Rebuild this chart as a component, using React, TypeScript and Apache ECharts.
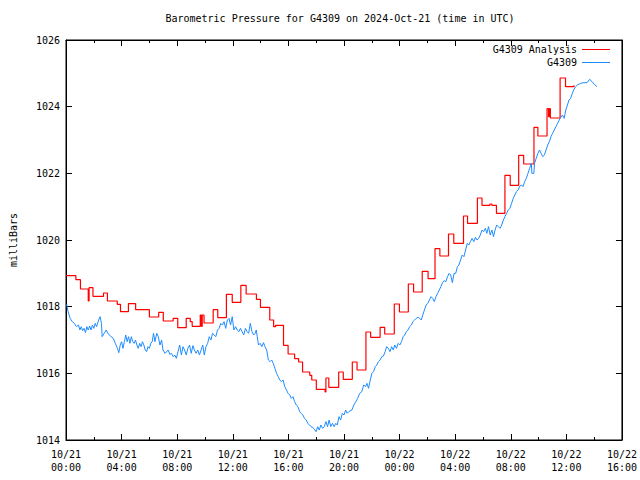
import React, { useEffect, useRef } from "react";
import * as echarts from "echarts";

// Hours since 2024-10-21 00:00 UTC, pressure in milliBars
const titleText = "Barometric Pressure for G4309 on 2024-Oct-21 (time in UTC)";
const yAxisName = "milliBars";
const seriesNames = ["G4309 Analysis", "G4309"];
const xTickLabels = [
  "10/21\n00:00", "10/21\n04:00", "10/21\n08:00", "10/21\n12:00", "10/21\n16:00", "10/21\n20:00",
  "10/22\n00:00", "10/22\n04:00", "10/22\n08:00", "10/22\n12:00", "10/22\n16:00",
];
const xMin = 0;
const xMax = 40;
const xStep = 4;
const yMin = 1014;
const yMax = 1026;
const yStep = 2;

// Analysis (step): value holds from its hour until the next hour
const analysis: [number, number][] = [
  [0.0, 1018.93], [0.71, 1018.81], [1.04, 1018.53], [1.6, 1018.17], [1.66, 1018.57], [1.94, 1018.31],
  [2.7, 1018.41], [2.98, 1018.17], [3.69, 1018.07], [3.92, 1017.85], [4.49, 1018.09], [5.01, 1017.91],
  [6.0, 1017.69], [6.67, 1017.83], [7.0, 1017.57], [7.71, 1017.65], [8.04, 1017.37], [8.65, 1017.65],
  [8.94, 1017.55], [9.08, 1017.41], [9.66, 1017.75], [9.74, 1017.41], [9.8, 1017.75], [9.93, 1017.51],
  [10.59, 1017.91], [10.92, 1017.67], [11.54, 1018.37], [11.96, 1018.13], [12.58, 1018.64], [12.96, 1018.38],
  [13.7, 1018.22], [13.99, 1017.98], [14.66, 1017.6], [14.94, 1017.4], [15.08, 1017.44], [15.65, 1016.84],
  [15.98, 1016.58], [16.45, 1016.44], [16.74, 1016.34], [17.02, 1016.04], [17.54, 1015.94], [17.68, 1015.8],
  [18.01, 1015.52], [18.64, 1015.44], [18.7, 1015.86], [18.91, 1015.58], [19.62, 1016.04], [19.95, 1015.82],
  [20.6, 1016.34], [20.94, 1016.1], [21.58, 1017.24], [21.92, 1017.08], [22.6, 1017.38], [22.93, 1017.18],
  [23.62, 1018.08], [23.99, 1017.84], [24.63, 1018.68], [25.01, 1018.44], [25.63, 1019.06], [26.05, 1018.84],
  [26.55, 1019.74], [26.9, 1019.52], [27.52, 1020.18], [27.9, 1019.9], [28.6, 1020.72], [28.89, 1020.5],
  [29.6, 1021.26], [29.93, 1021.04], [30.5, 1021.08], [30.64, 1021.04], [30.97, 1020.8], [31.58, 1021.94],
  [31.96, 1021.64], [32.57, 1022.54], [32.93, 1022.28], [33.67, 1023.38], [33.95, 1023.12], [34.61, 1023.94],
  [34.72, 1023.7], [34.78, 1023.94], [34.85, 1023.66], [35.55, 1024.86], [35.94, 1024.6], [36.55, 1024.64],
];

// Station observations
const observed: [number, number][] = [
  [0.05, 1018.07], [0.15, 1017.85], [0.3, 1017.65], [0.45, 1017.55], [0.6, 1017.5], [0.75, 1017.4],
  [0.9, 1017.45], [1.0, 1017.3], [1.1, 1017.4], [1.2, 1017.28], [1.3, 1017.35], [1.4, 1017.22],
  [1.5, 1017.4], [1.6, 1017.3], [1.7, 1017.42], [1.8, 1017.3], [1.9, 1017.45], [2.0, 1017.35],
  [2.1, 1017.5], [2.2, 1017.4], [2.35, 1017.6], [2.45, 1017.7], [2.55, 1017.5], [2.6, 1017.1],
  [2.75, 1017.2], [2.9, 1017.3], [3.0, 1017.2], [3.2, 1017.12], [3.4, 1017.05], [3.55, 1016.9],
  [3.7, 1016.75], [3.8, 1016.62], [3.9, 1016.85], [4.0, 1016.95], [4.1, 1016.75], [4.2, 1016.95],
  [4.3, 1017.15], [4.4, 1016.95], [4.5, 1017.1], [4.6, 1016.9], [4.7, 1017.1], [4.8, 1016.95],
  [4.9, 1016.9], [5.0, 1017.0], [5.1, 1016.85], [5.2, 1016.75], [5.3, 1016.9], [5.4, 1016.8],
  [5.5, 1016.95], [5.6, 1016.85], [5.7, 1016.7], [5.8, 1016.65], [5.9, 1016.8], [6.0, 1016.75],
  [6.1, 1016.9], [6.2, 1016.95], [6.3, 1017.2], [6.4, 1016.95],
  [6.53, 1017.2], [6.64, 1017.1], [6.76, 1016.85], [6.88, 1017.0], [6.98, 1016.7], [7.12, 1016.6],
  [7.35, 1016.7], [7.47, 1016.57], [7.59, 1016.6], [7.71, 1016.5], [7.83, 1016.55], [7.94, 1016.45],
  [8.06, 1016.65], [8.18, 1016.85], [8.3, 1016.55], [8.42, 1016.8], [8.53, 1016.7], [8.65, 1016.55],
  [8.77, 1016.75], [8.89, 1016.85], [9.01, 1016.6], [9.13, 1016.83], [9.24, 1016.7], [9.36, 1016.6],
  [9.48, 1016.7], [9.6, 1016.55], [9.72, 1016.7], [9.84, 1016.85], [9.95, 1016.55], [10.07, 1016.8],
  [10.19, 1016.9], [10.31, 1017.1], [10.43, 1017.0], [10.54, 1017.2], [10.78, 1017.1], [10.9, 1017.3],
  [11.02, 1017.35], [11.13, 1017.5], [11.25, 1017.45], [11.37, 1017.55], [11.49, 1017.35], [11.61, 1017.6],
  [11.73, 1017.65], [11.84, 1017.45], [11.96, 1017.7], [12.08, 1017.3], [12.2, 1017.4], [12.32, 1017.3],
  [12.44, 1017.25], [12.55, 1017.35], [12.67, 1017.25], [12.79, 1017.15], [12.91, 1017.35], [13.03, 1017.25],
  [13.14, 1017.2], [13.26, 1017.5], [13.38, 1017.25], [13.5, 1017.15],
  [13.61, 1017.2], [13.69, 1017.3], [13.76, 1017.1], [13.85, 1016.85], [13.97, 1016.9], [14.09, 1016.8],
  [14.21, 1016.92], [14.32, 1016.8], [14.44, 1016.7], [14.56, 1016.4], [14.68, 1016.35], [14.8, 1016.4],
  [14.91, 1016.3], [15.03, 1016.15], [15.15, 1016.0], [15.27, 1015.9], [15.39, 1015.8], [15.5, 1015.75],
  [15.62, 1015.8], [15.74, 1015.6], [15.86, 1015.5], [15.98, 1015.4], [16.1, 1015.35], [16.21, 1015.25],
  [16.33, 1015.3], [16.45, 1015.15], [16.57, 1015.05], [16.69, 1015.0], [16.81, 1014.85], [16.92, 1014.8],
  [17.04, 1014.75], [17.16, 1014.65], [17.28, 1014.6], [17.4, 1014.5], [17.52, 1014.45], [17.63, 1014.4],
  [17.75, 1014.38], [17.87, 1014.32], [17.99, 1014.25], [18.11, 1014.4], [18.22, 1014.3], [18.34, 1014.45],
  [18.46, 1014.35], [18.58, 1014.4], [18.7, 1014.55], [18.82, 1014.4], [18.93, 1014.6], [19.05, 1014.4],
  [19.17, 1014.5], [19.29, 1014.4], [19.41, 1014.5], [19.52, 1014.45], [19.64, 1014.7], [19.76, 1014.6],
  [19.88, 1014.8], [20.0, 1014.75], [20.12, 1014.9], [20.23, 1014.8], [20.35, 1014.85],
  [20.57, 1014.9], [20.71, 1015.05], [20.85, 1015.15], [20.99, 1015.25], [21.13, 1015.4], [21.28, 1015.45],
  [21.42, 1015.65], [21.56, 1015.6], [21.65, 1015.7], [21.77, 1015.55], [21.89, 1015.8], [22.01, 1016.0],
  [22.13, 1016.05], [22.25, 1016.2], [22.36, 1016.25], [22.48, 1016.35], [22.6, 1016.4], [22.72, 1016.5],
  [22.84, 1016.52], [22.96, 1016.65], [23.07, 1016.8], [23.19, 1016.75], [23.31, 1016.65], [23.43, 1016.8],
  [23.55, 1016.7], [23.66, 1016.85], [23.78, 1016.75], [23.9, 1016.9], [24.02, 1016.85], [24.14, 1016.95],
  [24.26, 1017.1], [24.37, 1017.15], [24.49, 1017.25], [24.61, 1017.3], [24.73, 1017.4], [24.85, 1017.45],
  [24.96, 1017.55], [25.08, 1017.6], [25.2, 1017.65], [25.32, 1017.68], [25.44, 1017.65], [25.56, 1017.6],
  [25.67, 1017.75], [25.79, 1017.9], [25.91, 1018.05], [26.03, 1018.1], [26.15, 1018.2], [26.26, 1018.3],
  [26.38, 1018.25], [26.5, 1018.15], [26.62, 1018.3], [26.74, 1018.4], [26.86, 1018.5], [26.97, 1018.6],
  [27.09, 1018.72],
  [27.21, 1018.78], [27.33, 1018.75], [27.45, 1018.9], [27.56, 1019.0], [27.68, 1018.95], [27.8, 1018.72],
  [27.92, 1019.0], [28.04, 1019.0], [28.16, 1019.2], [28.27, 1019.25], [28.39, 1019.4], [28.51, 1019.55],
  [28.63, 1019.5], [28.75, 1019.7], [28.87, 1019.9], [28.98, 1019.85], [29.1, 1019.95], [29.22, 1020.05],
  [29.34, 1019.95], [29.46, 1020.08], [29.57, 1020.0], [29.69, 1020.05], [29.81, 1020.15], [29.93, 1020.3],
  [30.05, 1020.25], [30.17, 1020.35], [30.28, 1020.2], [30.4, 1020.4], [30.52, 1020.15], [30.64, 1020.3],
  [30.76, 1020.1], [30.87, 1020.3], [30.99, 1020.45], [31.11, 1020.4], [31.23, 1020.35], [31.35, 1020.45],
  [31.47, 1020.6], [31.58, 1020.7], [31.7, 1020.8], [31.82, 1020.9], [31.94, 1020.95], [32.06, 1021.1],
  [32.18, 1021.25], [32.29, 1021.35], [32.41, 1021.45], [32.53, 1021.5], [32.65, 1021.62], [32.77, 1021.65],
  [32.88, 1021.6], [33.0, 1021.75], [33.12, 1021.85], [33.24, 1022.0], [33.36, 1022.15], [33.48, 1022.3],
  [33.52, 1022.0], [33.66, 1022.0], [33.71, 1022.3], [33.83, 1022.45], [33.95, 1022.6], [34.07, 1022.7],
  [34.18, 1022.6], [34.3, 1022.5], [34.42, 1022.55], [34.54, 1022.7], [34.66, 1022.85], [34.78, 1022.95],
  [34.89, 1023.1], [35.01, 1023.2], [35.13, 1023.3], [35.25, 1023.4], [35.37, 1023.5], [35.49, 1023.6],
  [35.6, 1023.68], [35.72, 1023.75], [35.84, 1023.65], [35.96, 1023.9], [36.08, 1024.05], [36.19, 1024.2],
  [36.31, 1024.25], [36.43, 1024.4], [36.55, 1024.52], [36.67, 1024.6], [36.79, 1024.65], [37.02, 1024.7],
  [37.26, 1024.72], [37.49, 1024.72], [37.68, 1024.82], [37.85, 1024.75], [38.01, 1024.67], [38.2, 1024.6],
];

const FONT = "DejaVu Sans Mono";
const RED = "#ff0000";
const BLUE = "#1e8cff";

export default function App() {
  const ref = useRef<HTMLDivElement>(null);
  useEffect(() => {
    if (!ref.current) return;
    const chart = echarts.init(ref.current, undefined, { renderer: "svg" });
    const xBase = {
      type: "value" as const,
      min: xMin,
      max: xMax,
      interval: xStep,
      axisLine: { show: true, onZero: false, lineStyle: { color: "#000", width: 1 } },
      axisTick: { show: true, inside: true, length: 6, lineStyle: { color: "#000" } },
      minorTick: { show: true, splitNumber: 2, length: 3, lineStyle: { color: "#000" } },
      splitLine: { show: false },
      minorSplitLine: { show: false },
    };
    const yBase = {
      type: "value" as const,
      min: yMin,
      max: yMax,
      interval: yStep,
      axisLine: { show: true, onZero: false, lineStyle: { color: "#000", width: 1 } },
      axisTick: { show: true, inside: true, length: 6, lineStyle: { color: "#000" } },
      splitLine: { show: false },
    };
    chart.setOption({
      animation: false,
      backgroundColor: "#fff",
      title: {
        text: titleText,
        left: 340,
        top: 13,
        padding: 0,
        textAlign: "center",
        textStyle: { fontFamily: FONT, fontSize: 10, fontWeight: "normal", color: "#000" },
      },
      legend: {
        data: seriesNames,
        orient: "vertical",
        right: 25,
        top: 38,
        align: "right",
        icon: "rect",
        itemWidth: 28,
        itemHeight: 1,
        itemGap: 0,
        selectedMode: false,
        textStyle: { fontFamily: FONT, fontSize: 10, lineHeight: 13, color: "#000" },
      },
      grid: { left: 58, right: 18, top: 40, bottom: 40, show: true, borderColor: "#000", borderWidth: 1 },
      xAxis: [
        {
          ...xBase,
          position: "bottom",
          axisLabel: {
            show: true,
            showMinLabel: true,
            showMaxLabel: true,
            margin: 8,
            fontFamily: FONT,
            fontSize: 10,
            lineHeight: 13,
            color: "#000",
            formatter: (v: number) => xTickLabels[Math.round((v - xMin) / xStep)] ?? "",
          },
        },
        { ...xBase, position: "top", axisLabel: { show: false } },
      ],
      yAxis: [
        {
          ...yBase,
          position: "left",
          name: yAxisName,
          nameLocation: "middle",
          nameGap: 48,
          nameRotate: 90,
          nameTextStyle: { fontFamily: FONT, fontSize: 10, color: "#000" },
          axisLabel: {
            show: true,
            margin: 6,
            fontFamily: FONT,
            fontSize: 10,
            color: "#000",
            formatter: (v: number) => String(Math.round(v)),
          },
        },
        { ...yBase, position: "right", axisLabel: { show: false } },
      ],
      series: [
        {
          name: seriesNames[0],
          type: "line",
          step: "end",
          data: analysis,
          showSymbol: false,
          symbol: "none",
          color: RED,
          lineStyle: { color: RED, width: 1.2 },
          xAxisIndex: 0,
          yAxisIndex: 0,
        },
        {
          name: seriesNames[1],
          type: "line",
          data: observed,
          showSymbol: false,
          symbol: "none",
          color: BLUE,
          lineStyle: { color: BLUE, width: 1 },
          xAxisIndex: 0,
          yAxisIndex: 0,
        },
      ],
    });
    return () => chart.dispose();
  }, []);
  return (
    <div
      ref={ref}
      style={{ position: "fixed", left: 0, top: 0, width: 640, height: 480, background: "#fff" }}
    />
  );
}
